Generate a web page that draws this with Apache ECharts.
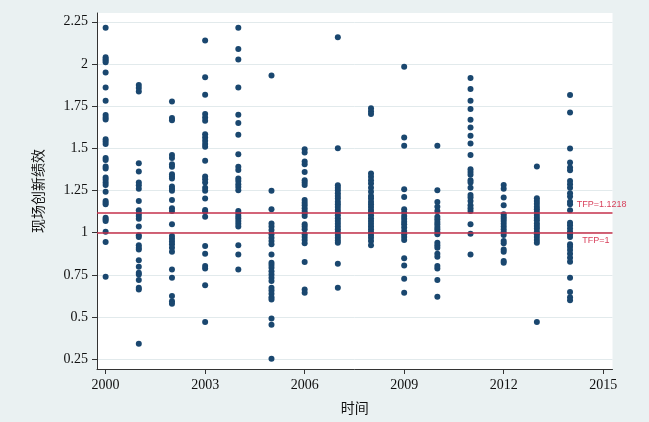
<!DOCTYPE html>
<html>
<head>
<meta charset="utf-8">
<script src="https://cdn.jsdelivr.net/npm/echarts@6/dist/echarts.min.js"></script>
<style>
html,body{margin:0;padding:0;background:#eaf1f2;}
#c{width:649px;height:422px;}
</style>
</head>
<body>
<div id="c"></div>
<script>
const years = [2000,2001,2002,2003,2004,2005,2006,2007,2008,2009,2010,2011,2012,2013,2014];
const xTicks = [2000,2003,2006,2009,2012,2015];
const yTicks = [0.25,0.5,0.75,1,1.25,1.5,1.75,2,2.25];
const refValues = [1.1218, 1];
const refLabels = ['TFP=1.1218', 'TFP=1'];

const v2000 = [2.214,2.040,2.030,2.020,2.010,1.950,1.861,1.782,1.697,1.683,1.671,1.554,1.541,1.525,1.442,1.430,1.392,1.380,1.327,1.313,1.297,1.283,1.242,1.188,1.178,1.168,1.089,1.079,1.069,1.006,0.945,0.739];
const v2001 = [1.875,1.857,1.836,1.412,1.362,1.297,1.281,1.261,1.188,1.133,1.113,1.099,1.083,1.036,0.984,0.974,0.925,0.911,0.901,0.836,0.798,0.762,0.752,0.719,0.673,0.663,0.341];
const v2002 = [1.778,1.679,1.667,1.461,1.442,1.406,1.390,1.347,1.333,1.321,1.273,1.261,1.248,1.194,1.145,1.129,1.050,0.980,0.964,0.947,0.931,0.911,0.887,0.782,0.733,0.624,0.594,0.578];
const v2003 = [2.139,1.921,1.818,1.703,1.683,1.663,1.584,1.564,1.545,1.525,1.509,1.426,1.333,1.317,1.297,1.267,1.248,1.202,1.135,1.125,1.095,0.921,0.875,0.802,0.788,0.689,0.471];
const v2004 = [2.214,2.089,2.026,1.861,1.699,1.650,1.580,1.465,1.390,1.372,1.321,1.307,1.287,1.271,1.251,1.129,1.115,1.099,1.085,1.069,1.053,1.036,0.925,0.871,0.782];
const v2005 = [1.931,1.248,1.139,1.055,1.036,1.016,0.990,0.970,0.950,0.931,0.871,0.822,0.808,0.792,0.772,0.752,0.733,0.713,0.673,0.657,0.638,0.618,0.604,0.491,0.455,0.253];
const v2006 = [1.495,1.475,1.422,1.406,1.360,1.311,1.297,1.283,1.194,1.178,1.162,1.145,1.129,1.115,1.099,1.050,1.036,1.020,0.990,0.974,0.956,0.937,0.826,0.663,0.644];
const v2007 = [2.158,1.501,1.281,1.267,1.251,1.234,1.218,1.202,1.184,1.168,1.152,1.135,1.119,1.103,1.085,1.069,1.053,1.036,1.020,1.004,0.986,0.970,0.954,0.941,0.816,0.673];
const v2008 = [1.737,1.719,1.703,1.350,1.331,1.311,1.291,1.267,1.242,1.218,1.202,1.184,1.168,1.152,1.135,1.119,1.103,1.085,1.069,1.053,1.036,1.020,1.004,0.986,0.970,0.950,0.925];
const v2009 = [1.984,1.564,1.515,1.257,1.212,1.139,1.119,1.099,1.083,1.065,1.050,1.030,1.010,0.990,0.974,0.956,0.848,0.806,0.727,0.644];
const v2010 = [1.515,1.251,1.182,1.154,1.129,1.095,1.079,1.063,1.050,1.034,1.020,1.004,0.990,0.941,0.925,0.911,0.875,0.857,0.802,0.788,0.719,0.620];
const v2011 = [1.917,1.851,1.782,1.733,1.669,1.624,1.574,1.529,1.461,1.376,1.360,1.343,1.311,1.297,1.267,1.224,1.208,1.188,1.162,1.145,1.129,1.050,0.994,0.871];
const v2012 = [1.283,1.261,1.208,1.162,1.109,1.095,1.083,1.069,1.053,1.036,1.020,1.004,0.986,0.950,0.937,0.901,0.887,0.832,0.822];
const v2013 = [1.392,1.204,1.188,1.172,1.154,1.139,1.123,1.105,1.089,1.073,1.055,1.040,1.024,1.006,0.990,0.974,0.956,0.941,0.471];
const v2014 = [1.816,1.713,1.499,1.416,1.386,1.370,1.307,1.287,1.267,1.234,1.214,1.184,1.168,1.133,1.059,1.044,1.024,1.006,0.990,0.974,0.931,0.917,0.897,0.875,0.851,0.828,0.733,0.648,0.618,0.600];

const columns = [v2000,v2001,v2002,v2003,v2004,v2005,v2006,v2007,v2008,v2009,v2010,v2011,v2012,v2013,v2014];
const points = [];
years.forEach((yr, i) => columns[i].forEach(v => points.push([yr, v])));

const serif = '"Liberation Serif", "Times New Roman", "Noto Sans CJK SC", serif';
const chart = echarts.init(document.getElementById('c'), null, {renderer: 'canvas'});
chart.setOption({
  backgroundColor: '#eaf1f2',
  animation: false,
  grid: {left: 97, right: 36.5, top: 13, bottom: 53, show: true, backgroundColor: '#ffffff', borderWidth: 0},
  xAxis: {
    type: 'value', min: 1999.74, max: 2015.28,
    name: '时间', nameLocation: 'middle', nameGap: 32,
    nameTextStyle: {fontFamily: '"Noto Sans CJK SC", serif', fontSize: 14, color: '#111'},
    axisLine: {show: true, lineStyle: {color: '#333', width: 1}},
    axisTick: {show: true, length: 5, lineStyle: {color: '#333'}, customValues: xTicks},
    axisLabel: {customValues: xTicks, formatter: v => String(Math.round(v)), fontFamily: serif, fontSize: 14, color: '#111', margin: 9},
    splitLine: {show: false}
  },
  yAxis: {
    type: 'value', min: 0.192, max: 2.302,
    name: '现场创新绩效', nameLocation: 'middle', nameGap: 52, nameRotate: 90,
    nameTextStyle: {fontFamily: '"Noto Sans CJK SC", serif', fontSize: 14, color: '#111'},
    axisLine: {show: true, lineStyle: {color: '#333', width: 1}},
    axisTick: {show: true, length: 5, lineStyle: {color: '#333'}, customValues: yTicks},
    axisLabel: {customValues: yTicks, formatter: v => String(v), fontFamily: serif, fontSize: 14, color: '#111', margin: 9},
    splitLine: {show: true, lineStyle: {color: '#e2eaec', width: 1}}
  },
  series: [{
    type: 'scatter',
    data: points,
    symbol: 'circle',
    symbolSize: 6,
    itemStyle: {color: '#1a476f', opacity: 1},
    markLine: {
      silent: true,
      symbol: 'none',
      lineStyle: {color: '#c4314b', width: 1.5, type: 'solid'},
      data: refValues.map((v, i) => ({
        yAxis: v,
        label: {
          show: true,
          formatter: refLabels[i],
          position: i === 0 ? 'insideEndTop' : 'insideEndBottom',
          distance: 3,
          offset: i === 0 ? [17, 0] : [0, 0],
          color: '#d8415c',
          fontFamily: '"Liberation Sans", Arial, sans-serif',
          fontSize: 9
        }
      }))
    }
  }]
});
</script>
</body>
</html>
